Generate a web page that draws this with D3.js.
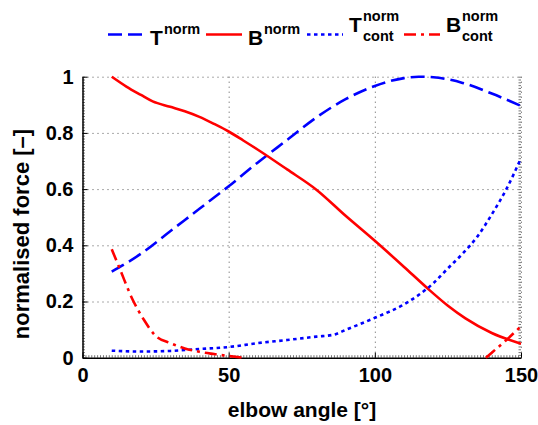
<!DOCTYPE html>
<html>
<head>
<meta charset="utf-8">
<script src="https://cdn.jsdelivr.net/npm/d3@7"></script>
<style>
    body { margin: 0; background: #fff; }
    svg text { font-family: "Liberation Sans", Arial, Helvetica, sans-serif; font-weight: bold; fill: #000; }
    .axis path, .axis line { stroke: #000; }
    .minor line { stroke: #777; }
    .minor path { stroke: none; }
    .grid line { stroke: #555; stroke-dasharray: 1,4; }
    .grid path { stroke: none; }
</style>
</head>
<body>
<div id="chart"></div>
<script>

// elbow angle [deg], normalised force
var tNorm = [
    [10, 0.306], [20, 0.37], [30, 0.45], [40, 0.53], [50, 0.61], [60, 0.695],
    [70, 0.775], [80, 0.855], [90, 0.92], [100, 0.967], [110, 0.995], [115, 1.0],
    [120, 0.998], [130, 0.978], [140, 0.94], [150, 0.896]
];

var bNorm = [
    [10, 1.0], [15, 0.965], [20, 0.935], [24, 0.912], [30, 0.893], [35, 0.877],
    [40, 0.857], [45, 0.832], [50, 0.805], [55, 0.773], [60, 0.74], [70, 0.67],
    [80, 0.598], [90, 0.505], [100, 0.416], [110, 0.323], [118, 0.247], [125, 0.185],
    [131, 0.14], [140, 0.088], [150, 0.05]
];

var tCont = [
    [10, 0.025], [20, 0.022], [30, 0.024], [40, 0.031], [50, 0.038], [60, 0.052],
    [70, 0.063], [80, 0.075], [86, 0.082], [90, 0.099], [95, 0.12], [100, 0.142],
    [110, 0.19], [120, 0.265], [125, 0.318], [130, 0.37], [135, 0.43], [140, 0.51],
    [145, 0.6], [150, 0.71]
];

// null = no contribution (curve not drawn)
var bCont = [
    [10, 0.386], [13, 0.31], [17, 0.21], [21, 0.135], [25, 0.078], [30, 0.052],
    [35, 0.033], [40, 0.021], [45, 0.013], [50, 0.006], [55, 0.0], [60, null],
    [135, null], [138, 0.0], [140, 0.018], [145, 0.063], [150, 0.112]
];

var xTicks = [0, 50, 100, 150];
var yTicks = [0, 0.2, 0.4, 0.6, 0.8, 1];

var width = 538;
var height = 425;
var margin = { left: 82.5, top: 76.7, right: 17, bottom: 67.3 };
var innerWidth = width - margin.left - margin.right;
var innerHeight = height - margin.top - margin.bottom;

var xScale = d3.scaleLinear().domain([0, 150]).range([0, innerWidth]);
var yScale = d3.scaleLinear().domain([0, 1]).range([innerHeight, 0]);

var svg = d3.select('#chart')
    .append('svg')
    .attr('width', width)
    .attr('height', height);

var canvas = svg.append('g')
    .attr('transform', 'translate(' + [margin.left, margin.top] + ')');

function noText(g) {
    g.selectAll('text').remove();
}

// grid
canvas.append('g')
    .attr('class', 'grid')
    .attr('transform', 'translate(' + [0, innerHeight] + ')')
    .call(d3.axisBottom(xScale).tickValues(xTicks.slice(1)).tickSize(-innerHeight))
    .call(noText);

canvas.append('g')
    .attr('class', 'grid')
    .call(d3.axisLeft(yScale).tickValues(yTicks.slice(1)).tickSize(-innerWidth))
    .call(noText);

// minor ticks
canvas.append('g')
    .attr('class', 'minor')
    .attr('transform', 'translate(' + [0, innerHeight] + ')')
    .call(d3.axisBottom(xScale).ticks(150).tickSize(-2.5))
    .call(noText);

canvas.append('g')
    .attr('class', 'minor')
    .call(d3.axisLeft(yScale).ticks(100).tickSize(-2.5))
    .call(noText);

canvas.append('g')
    .attr('class', 'minor')
    .attr('transform', 'translate(' + [innerWidth, 0] + ')')
    .call(d3.axisRight(yScale).ticks(100).tickSize(-2.5))
    .call(noText);

// axes
canvas.append('g')
    .attr('class', 'axis x-axis')
    .attr('transform', 'translate(' + [0, innerHeight] + ')')
    .call(d3.axisBottom(xScale).tickValues(xTicks).tickSizeInner(-5).tickSizeOuter(0).tickPadding(10));

canvas.append('g')
    .attr('class', 'axis y-axis')
    .call(d3.axisLeft(yScale).tickValues(yTicks).tickSizeInner(-5).tickSizeOuter(0).tickPadding(9)
        .tickFormat(d3.format('~g')));

svg.selectAll('.axis text')
    .style('font-size', '20px');

svg.selectAll('.axis path')
    .style('stroke-width', 1.5);

// curves
var line = d3.line()
    .defined(d => d[1] !== null)
    .x(d => xScale(d[0]))
    .y(d => yScale(d[1]))
    .curve(d3.curveMonotoneX);

var series = [
    { data: tNorm, color: '#0000ff', dash: '14,6' },
    { data: bNorm, color: '#ff0000', dash: null },
    { data: tCont, color: '#0000ff', dash: '3.5,3.5' },
    { data: bCont, color: '#ff0000', dash: '12,5,3,5' }
];

canvas.selectAll('path.line')
    .data(series)
    .enter()
    .append('path')
    .attr('class', 'line')
    .attr('d', d => line(d.data))
    .style('fill', 'none')
    .style('stroke', d => d.color)
    .style('stroke-width', 2.6)
    .style('stroke-dasharray', d => d.dash);

// axis titles
svg.append('text')
    .attr('x', 302)
    .attr('y', 417)
    .attr('text-anchor', 'middle')
    .style('font-size', '21px')
    .text('elbow angle [°]');

svg.append('text')
    .attr('transform', 'translate(29,234) rotate(-90)')
    .attr('text-anchor', 'middle')
    .style('font-size', '22px')
    .text('normalised force [–]');

// legend
var legendItems = [
    { x: 108, letter: 'T', sub: null },
    { x: 206, letter: 'B', sub: null },
    { x: 307, letter: 'T', sub: 'cont' },
    { x: 404, letter: 'B', sub: 'cont' }
];

var legend = svg.append('g')
    .attr('class', 'legend');

legendItems.forEach(function(item, i) {

    var g = legend.append('g')
        .attr('transform', 'translate(' + [item.x, 0] + ')');

    g.append('line')
        .attr('x1', 0)
        .attr('x2', 36)
        .attr('y1', 34.5)
        .attr('y2', 34.5)
        .style('stroke', series[i].color)
        .style('stroke-width', 2.6)
        .style('stroke-dasharray', series[i].dash);

    var base = item.sub ? 31.7 : 45;
    var letterWidth = item.letter === 'T' ? 13 : 15;

    g.append('text')
        .attr('x', 42)
        .attr('y', base)
        .style('font-size', '21px')
        .text(item.letter);

    g.append('text')
        .attr('x', 42 + letterWidth + 1)
        .attr('y', item.sub ? 20.7 : 34)
        .style('font-size', '14.5px')
        .text('norm');

    if (item.sub) {
        g.append('text')
            .attr('x', 42 + letterWidth + 1)
            .attr('y', 40.7)
            .style('font-size', '14.5px')
            .text(item.sub);
    }
});

</script>
</body>
</html>
